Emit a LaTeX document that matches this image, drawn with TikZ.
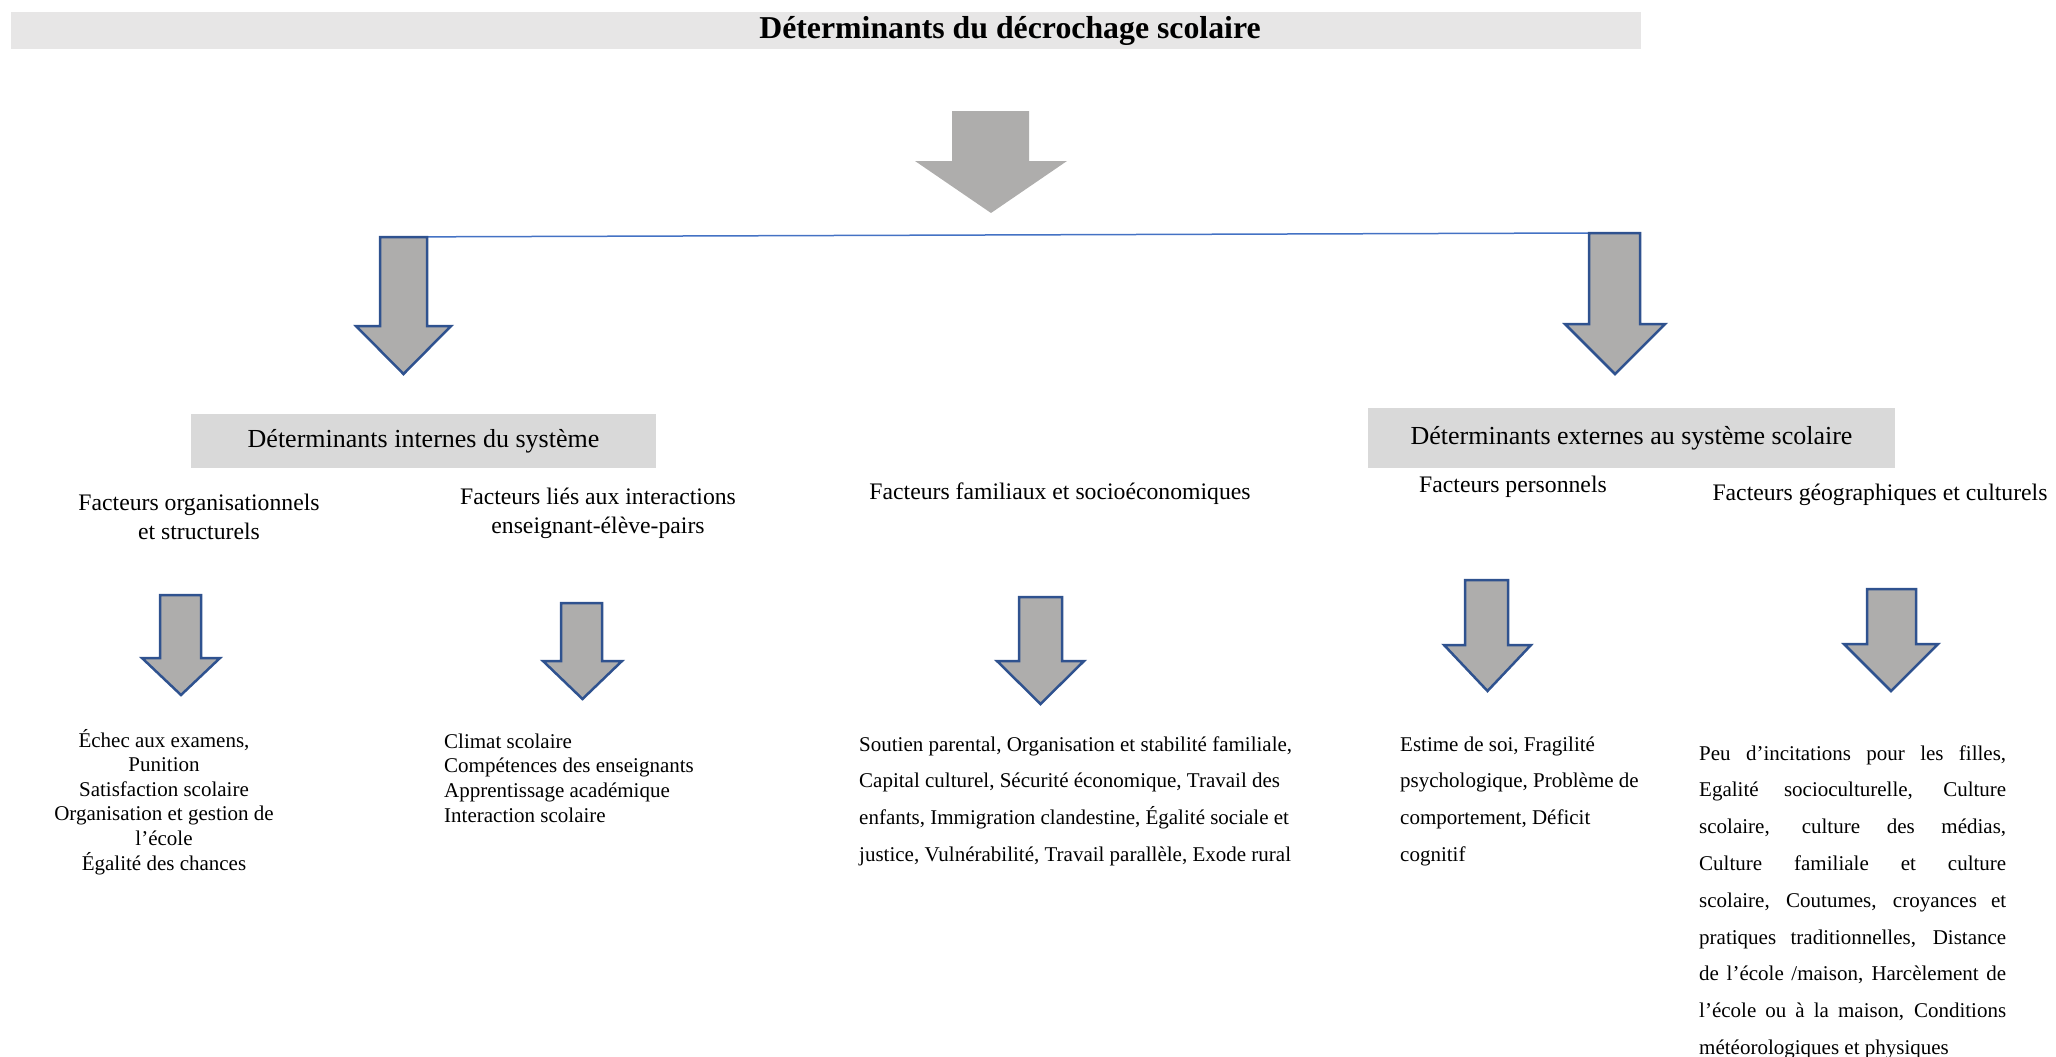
\documentclass[tikz,border=0pt]{standalone}
\usepackage{fontspec}
\setmainfont{Liberation Serif}
\definecolor{arrowgray}{RGB}{174,173,172}
\definecolor{arrowblue}{RGB}{47,82,143}
\definecolor{linkblue}{RGB}{68,114,196}
\definecolor{barcol}{RGB}{231,230,230}
\definecolor{boxcol}{RGB}{217,217,217}
\newcommand{\blkarrow}[8]{\path[#1] (#2,#4) -- (#3,#4) -- (#3,#5) -- (#7,#5) -- ({(#6+#7)/2},#8) -- (#6,#5) -- (#2,#5) -- cycle;}
\begin{document}
\begin{tikzpicture}[x=1pt,y=-1pt,
  arrowshape/.style={fill=arrowgray, draw=arrowblue, line width=2.5pt, line join=miter},
  bigarrow/.style={fill=arrowgray},
  hdrbox/.style={fill=boxcol, inner sep=0pt, font=\fontsize{26}{31}\selectfont},
  subhdr/.style={font=\fontsize{23.7}{29}\selectfont, align=center, inner sep=0pt, anchor=base},
  itemc/.style={font=\fontsize{21}{24.6}\selectfont, inner sep=0pt, align=center, anchor=base},
  iteml/.style={font=\fontsize{21}{24.6}\selectfont, inner sep=0pt, align=left, anchor=base west},
  itemwide/.style={font=\fontsize{21}{36.8}\selectfont, inner sep=0pt, align=left, anchor=base west}]
\useasboundingbox (0,0) rectangle (2056,1057);
% title bar
\node[fill=barcol, inner sep=0pt, minimum width=1630pt, minimum height=36.5pt, anchor=north west] (titlebar) at (10.5,12) {};
\node[font=\fontsize{31.8}{36}\selectfont\bfseries, inner sep=0pt, anchor=base] (title) at (1010,39) {Déterminants du décrochage scolaire};
% big arrow
\blkarrow{bigarrow}{952}{1029}{111}{161}{915}{1067}{213}
% medium arrows and connecting line
\coordinate (la) at (380,237);
\coordinate (ra) at (1589,233);
\draw[linkblue, line width=1.5pt] (la) -- (ra);
\blkarrow{arrowshape}{380}{427}{237}{326}{356}{451}{374}
\blkarrow{arrowshape}{1589}{1640}{233}{324}{1565}{1665}{374}
% header boxes
\node[hdrbox, minimum width=465pt, minimum height=54pt] (internes) at (423.5,441) {Déterminants internes du système};
\node[hdrbox, minimum width=527pt, minimum height=60pt] (externes) at (1631.5,438) {Déterminants externes au système scolaire};
% sub headers (base anchor = last line)
\node[subhdr] (org) at (199,539) {Facteurs organisationnels\\et structurels};
\node[subhdr] (inter) at (598,533) {Facteurs liés aux interactions\\enseignant-élève-pairs};
\node[subhdr] (fam) at (1060,499) {Facteurs familiaux et socioéconomiques};
\node[subhdr] (pers) at (1513,492) {Facteurs personnels};
\node[subhdr] (geo) at (1880,500) {Facteurs géographiques et culturels};
% small arrows
\blkarrow{arrowshape}{160}{201}{595}{658}{142}{220}{695}
\blkarrow{arrowshape}{561}{602}{603}{661}{543}{622}{699}
\blkarrow{arrowshape}{1019}{1062}{597}{661}{997}{1084}{704}
\blkarrow{arrowshape}{1465}{1508}{580}{645}{1444}{1531}{691}
\blkarrow{arrowshape}{1867}{1916}{589}{644}{1844}{1938}{691}
% item texts (base anchor = last line)
\node[itemc] (t1) at (164,870) {Échec aux examens,\\Punition\\Satisfaction scolaire\\Organisation et gestion de\\l’école\\Égalité des chances};
\node[iteml] (t2) at (444,822) {Climat scolaire\\Compétences des enseignants\\Apprentissage académique\\Interaction scolaire};
\node[itemwide] (t3) at (859,861.4) {Soutien parental, Organisation et stabilité familiale,\\Capital culturel, Sécurité économique, Travail des\\enfants, Immigration clandestine, Égalité sociale et\\justice, Vulnérabilité, Travail parallèle, Exode rural};
\node[itemwide] (t4) at (1400,861.4) {Estime de soi, Fragilité\\psychologique, Problème de\\comportement, Déficit\\cognitif};
\node[itemwide] (t5) at (1699,1054.4) {\makebox[307pt][s]{Peu d’incitations pour les filles,}\\
\makebox[307pt][s]{Egalité socioculturelle, Culture}\\
\makebox[307pt][s]{scolaire, culture des médias,}\\
\makebox[307pt][s]{Culture familiale et culture}\\
\makebox[307pt][s]{scolaire, Coutumes, croyances et}\\
\makebox[307pt][s]{pratiques traditionnelles, Distance}\\
\makebox[307pt][s]{de l’école /maison, Harcèlement de}\\
\makebox[307pt][s]{l’école ou à la maison, Conditions}\\
météorologiques et physiques};
\end{tikzpicture}
\end{document}
